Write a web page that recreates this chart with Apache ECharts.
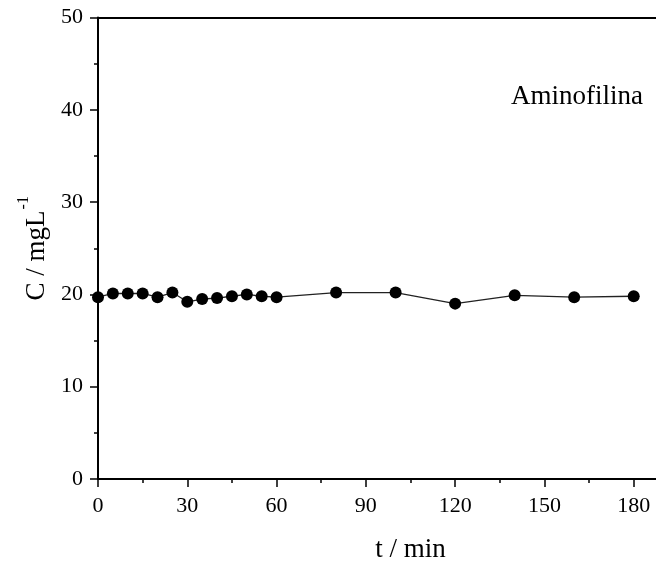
<!DOCTYPE html>
<html>
<head>
<meta charset="utf-8">
<script src="https://cdn.jsdelivr.net/npm/echarts@6/dist/echarts.min.js"></script>
<style>html,body{margin:0;padding:0;background:#fff}#c{width:656px;height:569px}</style>
</head>
<body>
<div id="c"></div>
<script>
// time (min)
var timeValues = [0, 5, 10, 15, 20, 25, 30, 35, 40, 45, 50, 55, 60, 80, 100, 120, 140, 160, 180];
// concentration (mg/L)
var concValues = [19.7, 20.1, 20.1, 20.1, 19.7, 20.2, 19.2, 19.5, 19.6, 19.8, 20.0, 19.8, 19.7, 20.2, 20.2, 19.0, 19.9, 19.7, 19.8];
var xTicks = [0, 30, 60, 90, 120, 150, 180];
var yTicks = [0, 10, 20, 30, 40, 50];
var seriesLabel = 'Aminofilina';

var data = timeValues.map(function (t, i) { return [t, concValues[i]]; });
var font = 'Liberation Serif';
var chart = echarts.init(document.getElementById('c'));
chart.setOption({
  animation: false,
  backgroundColor: '#fff',
  grid: { left: 98, top: 17.5, bottom: 90, right: -67, containLabel: false, outerBoundsMode: 'none' },
  xAxis: [{
    type: 'value', min: 0, max: 210, interval: 30,
    axisLine: { show: true, lineStyle: { color: '#000', width: 2 } },
    axisTick: { show: true, inside: false, length: 8, lineStyle: { color: '#000', width: 1.5 } },
    minorTick: { show: true, splitNumber: 2, length: 4, lineStyle: { color: '#000', width: 1.5 } },
    splitLine: { show: false },
    axisLabel: {
      color: '#000', fontFamily: font, fontSize: 22, margin: 16,
      formatter: function (v) { return xTicks.indexOf(v) >= 0 ? String(v) : ''; }
    },
    name: 't / min', nameLocation: 'middle', nameGap: 57,
    nameTextStyle: { color: '#000', fontFamily: font, fontSize: 27 }
  }, {
    type: 'value', position: 'top', min: 0, max: 210,
    axisLine: { show: true, lineStyle: { color: '#000', width: 2 } },
    axisTick: { show: false }, axisLabel: { show: false }, splitLine: { show: false }
  }],
  yAxis: [{
    type: 'value', min: 0, max: 50, interval: 10,
    axisLine: { show: true, lineStyle: { color: '#000', width: 2 } },
    axisTick: { show: true, inside: false, length: 8, lineStyle: { color: '#000', width: 1.5 } },
    minorTick: { show: true, splitNumber: 2, length: 4, lineStyle: { color: '#000', width: 1.5 } },
    splitLine: { show: false },
    axisLabel: {
      color: '#000', fontFamily: font, fontSize: 22, margin: 15,
      formatter: function (v) { return yTicks.indexOf(v) >= 0 ? String(v) : ''; }
    },
    name: '{a|C / mgL}{s|-1}', nameLocation: 'middle', nameGap: 48,
    nameTextStyle: {
      color: '#000', fontFamily: font, fontSize: 27,
      rich: {
        a: { fontFamily: font, fontSize: 27, color: '#000', lineHeight: 34, verticalAlign: 'bottom' },
        s: { fontFamily: font, fontSize: 16, color: '#000', lineHeight: 34, verticalAlign: 'top', padding: [0, 0, 0, 1] }
      }
    }
  }],
  series: [{
    type: 'line', name: seriesLabel, data: data,
    symbol: 'circle', symbolSize: 12,
    itemStyle: { color: '#000' },
    lineStyle: { color: '#222', width: 1.3 },
    clip: false
  }],
  graphic: [{
    type: 'text', right: 13, top: 83,
    style: { text: seriesLabel, fontFamily: font, fontSize: 27, fill: '#000' }
  }]
});
</script>
</body>
</html>
